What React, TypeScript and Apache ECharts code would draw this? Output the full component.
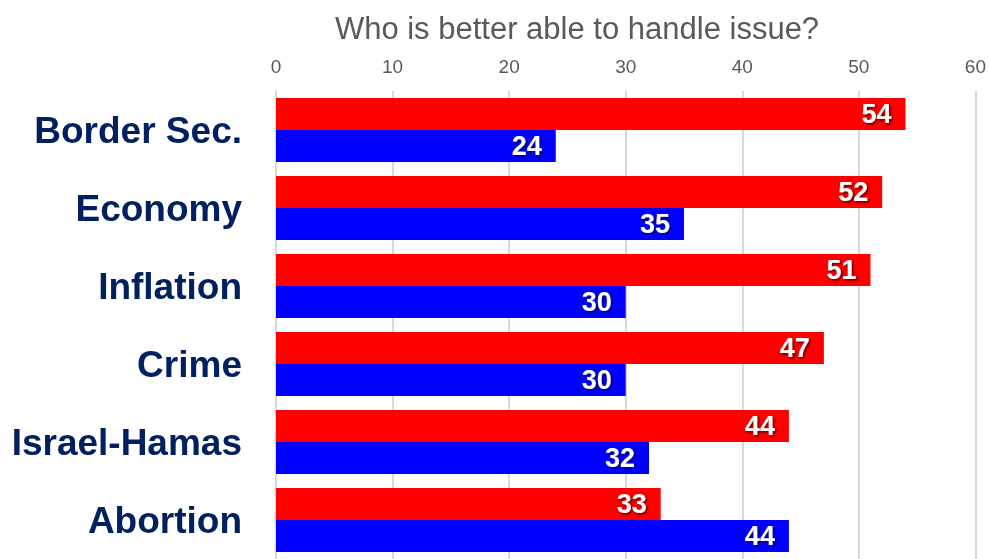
import React, { useEffect, useRef } from "react";
import * as echarts from "echarts";

const categories = ["Border Sec.", "Economy", "Inflation", "Crime", "Israel-Hamas", "Abortion"];
const redValues = [54, 52, 51, 47, 44, 33];
const blueValues = [24, 35, 30, 30, 32, 44];
const xTicks = { min: 0, max: 60, interval: 10 };
const titleText = "Who is better able to handle issue?";

const NARROW = "'Liberation Sans Narrow', 'Arial Narrow', 'Liberation Sans', Arial, sans-serif";

export default function App() {
  const ref = useRef<HTMLDivElement>(null);
  useEffect(() => {
    if (!ref.current) return;
    const chart = echarts.init(ref.current, null, { renderer: "svg" });
    const label = {
      show: true,
      position: "insideRight",
      distance: 14,
      color: "#ffffff",
      fontFamily: NARROW,
      fontWeight: "bold",
      fontSize: 27,
      textShadowColor: "rgba(0,0,0,0.65)",
      textShadowBlur: 2,
      textShadowOffsetX: 1.5,
      textShadowOffsetY: 1.5,
    };
    chart.setOption({
      animation: false,
      title: {
        text: titleText,
        left: 572,
        top: 8,
        textAlign: "center",
        textStyle: { color: "#595959", fontFamily: NARROW, fontWeight: "normal", fontSize: 31 },
      },
      grid: { left: 276, right: 13, top: 91, bottom: -3, containLabel: false },
      xAxis: {
        type: "value",
        position: "top",
        min: xTicks.min,
        max: xTicks.max,
        interval: xTicks.interval,
        axisLine: { show: false },
        axisTick: { show: false },
        axisLabel: { color: "#595959", fontFamily: NARROW, fontSize: 19, margin: 15 },
        splitLine: { show: true, lineStyle: { color: "#d9d9d9", width: 2 } },
      },
      yAxis: {
        type: "category",
        data: categories,
        inverse: true,
        axisLine: { show: true, lineStyle: { color: "#d9d9d9", width: 2 } },
        axisTick: { show: false },
        axisLabel: {
          color: "#002060",
          fontFamily: "'Liberation Sans', Arial, sans-serif",
          fontWeight: "bold",
          fontSize: 37,
          margin: 34,
        },
      },
      series: [
        {
          type: "bar",
          data: redValues,
          barWidth: 32,
          barGap: "0%",
          itemStyle: { color: "#ff0000" },
          label,
        },
        {
          type: "bar",
          data: blueValues,
          barWidth: 32,
          barGap: "0%",
          itemStyle: { color: "#0000ff" },
          label,
        },
      ],
    });
    return () => chart.dispose();
  }, []);
  return (
    <div
      ref={ref}
      style={{ width: 989, height: 559, position: "fixed", left: 0, top: 0 }}
    />
  );
}
